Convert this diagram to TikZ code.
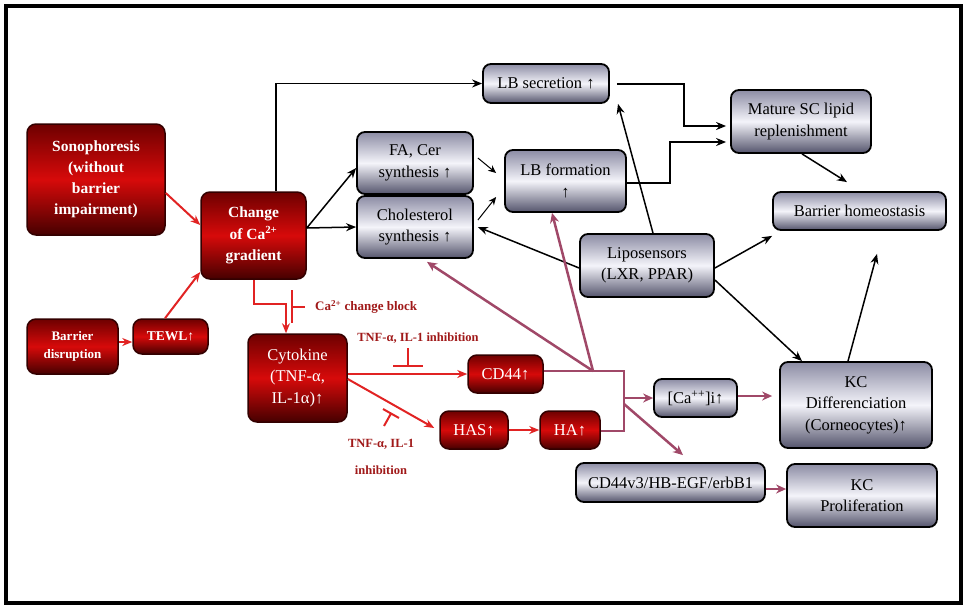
\documentclass[tikz,border=0pt]{standalone}
\usepackage{fontspec}
\setmainfont{Liberation Serif}
\usepackage{tikz}
\definecolor{maroon}{RGB}{110,0,0}
\definecolor{scarlet}{RGB}{215,10,10}
\definecolor{wine}{RGB}{70,0,0}
\definecolor{slate}{RGB}{140,140,164}
\definecolor{mist}{RGB}{244,244,250}
\definecolor{steel}{RGB}{84,84,108}
\definecolor{signal}{RGB}{225,35,35}
\definecolor{mauve}{RGB}{160,72,104}
\definecolor{brick}{RGB}{160,25,25}
\usetikzlibrary{shapes.geometric, arrows, arrows.meta}
\tikzstyle{redbox} = [rectangle, rounded corners=9pt, text centered, align=center, draw=black!80!red, line width=1.5pt, top color=maroon, bottom color=wine, middle color=scarlet, text=white, font=\fontsize{16.5}{21.5}\selectfont]
\tikzstyle{greybox} = [rectangle, rounded corners=8pt, text centered, align=center, draw=black, line width=1.8pt, top color=slate, bottom color=steel, middle color=mist, font=\fontsize{16.5}{21.5}\selectfont]
\tikzstyle{blocklabel} = [text=brick, inner sep=0pt, font=\bfseries\fontsize{13}{16}\selectfont]
\tikzstyle{arrow} = [line width=1.5pt, ->, >={Stealth[length=10pt, width=8pt]}, draw=black]
\tikzstyle{thinarrow} = [line width=1pt, ->, >={Stealth[length=8pt, width=7pt]}, draw=black]
\tikzstyle{redarrow} = [line width=2pt, ->, >={Stealth[length=10pt, width=8pt]}, draw=signal]
\tikzstyle{blockbar} = [line width=2pt, draw=signal]
\tikzstyle{purpleline} = [line width=2.5pt, draw=mauve]
\tikzstyle{purplearrow} = [purpleline, ->, >={Stealth[length=10pt, width=9pt]}]

\begin{document}
\begin{tikzpicture}[x=1pt, y=-1pt]
        \useasboundingbox (0,0) rectangle (964,606);
        \draw [line width=4.5pt] (6,6) rectangle (961,603);

        \node (node0) [redbox, minimum width=138pt, minimum height=111pt, font=\bfseries\fontsize{15.5}{21}\selectfont] at (96,179.5) {Sonophoresis\\(without\\barrier\\impairment)};
        \node (node1) [redbox, minimum width=105pt, minimum height=87pt, font=\bfseries\fontsize{15.5}{21.5}\selectfont] at (253.5,235.5) {Change\\of Ca\textsuperscript{2+}\\gradient};
        \node (node2) [greybox, minimum width=116pt, minimum height=62pt] at (415,163) {FA, Cer\\synthesis ↑};
        \node (node3) [greybox, minimum width=116pt, minimum height=62pt] at (415,227) {Cholesterol\\synthesis ↑};
        \node (node4) [greybox, minimum width=126pt, minimum height=39pt] at (546,83.5) {LB secretion ↑};
        \node (node5) [greybox, minimum width=140pt, minimum height=63pt] at (801,121.5) {Mature SC lipid\\replenishment};
        \node (node6) [greybox, minimum width=121pt, minimum height=62pt] at (565.5,181) {LB formation\\↑};
        \node (node7) [greybox, minimum width=173pt, minimum height=38pt] at (859.5,211) {Barrier homeostasis};
        \node (node8) [greybox, minimum width=134pt, minimum height=63pt] at (647,265.5) {Liposensors\\(LXR, PPAR)};
        \node (node9) [redbox, minimum width=91pt, minimum height=55pt, font=\bfseries\fontsize{13}{18}\selectfont] at (72.5,346.5) {Barrier\\disruption};
        \node (node10) [redbox, minimum width=75pt, minimum height=35pt, font=\bfseries\fontsize{13.5}{16}\selectfont] at (170.5,336.5) {TEWL↑};
        \node (node11) [redbox, minimum width=99pt, minimum height=88pt] at (297.5,378) {Cytokine\\(TNF-α,\\IL-1α)↑};
        \node (node12) [redbox, minimum width=75pt, minimum height=38pt] at (505.5,374) {CD44↑};
        \node (node13) [redbox, minimum width=68pt, minimum height=38pt] at (474,430) {HAS↑};
        \node (node14) [redbox, minimum width=60pt, minimum height=38pt] at (570,430) {HA↑};
        \node (node15) [greybox, minimum width=83pt, minimum height=38pt] at (695.5,398) {[Ca\textsuperscript{++}]i↑};
        \node (node16) [greybox, minimum width=152pt, minimum height=86pt] at (856,405) {KC\\Differenciation\\(Corneocytes)↑};
        \node (node17) [greybox, minimum width=189pt, minimum height=39pt] at (670.5,482.5) {CD44v3/HB-EGF/erbB1};
        \node (node18) [greybox, minimum width=150pt, minimum height=63pt] at (862,495.5) {KC\\Proliferation};

        \node (node19) [blocklabel, anchor=west] at (315,307) {Ca\textsuperscript{2+} change block};
        \node (node20) [blocklabel, font=\bfseries\fontsize{12.5}{15}\selectfont] at (418,338) {TNF-α, IL-1 inhibition};
        \node (node21) [blocklabel, align=center, font=\bfseries\fontsize{12.5}{15}\selectfont] at (381,456.5) {TNF-α, IL-1\\[12pt]inhibition};

        \coordinate (c0) at (593,371);
        \coordinate (c1) at (624,431);
        \coordinate (c2) at (624,398);
        \coordinate (c3) at (624,404);

        \draw [arrow] ([xshift=22.5pt]node1.north) |- (node4.west);
        \draw [arrow] ([yshift=7.5pt]node1.east) -- ([yshift=-5pt]node2.west);
        \draw [arrow] ([yshift=7.5pt]node1.east) -- (node3.west);
        \draw [thinarrow] ([xshift=4pt, yshift=5pt]node2.east) -- ([xshift=-8pt, yshift=8pt]node6.west);
        \draw [thinarrow] ([xshift=4pt, yshift=7pt]node3.east) -- ([xshift=-8pt, yshift=-16pt]node6.west);
        \draw [arrow, line width=2pt] ([xshift=7pt]node4.east) -- ++(67,0) |- ([xshift=-4pt, yshift=-4.5pt]node5.west);
        \draw [arrow, line width=2pt] ([yshift=-2pt]node6.east) -- ++(43,0) |- ([xshift=-4pt, yshift=-20.5pt]node5.west);
        \draw [arrow] ([xshift=1pt]node5.south) -- ([xshift=-12.5pt, yshift=9pt]node7.north);
        \draw [arrow] ([xshift=6pt]node8.north) -- ([xshift=72pt]node4.south);
        \draw [arrow] ([yshift=-2.5pt]node8.west) -- ([xshift=4pt]node3.east);
        \draw [arrow] ([yshift=-2.5pt]node8.east) -- ([yshift=-5pt]node7.south west);
        \draw [arrow] ([yshift=-14.5pt]node8.east) -- ([xshift=-54pt]node16.north);
        \draw [arrow] ([xshift=-8pt]node16.north) -- ([xshift=17.5pt, yshift=-23pt]node7.south);

        \draw [redarrow] ([yshift=-13.5pt]node0.east) -- ([yshift=10.5pt]node1.west);
        \draw [redarrow] ([yshift=4.5pt]node9.east) -- ([yshift=-5.5pt]node10.west);
        \draw [redarrow] ([xshift=-5.5pt]node10.north) -- ([yshift=-36.5pt]node1.west);
        \draw [redarrow] (node1.south) -- ++(0,24) -| ([xshift=-11.5pt]node11.north);
        \draw [redarrow] ([yshift=4pt]node11.east) -- (node12.west);
        \draw [redarrow] ([yshift=-1pt]node11.east) -- ([xshift=-5pt, yshift=2pt]node13.west);
        \draw [redarrow] (node13) -- (node14);
        \draw [blockbar] (292,290) -- (292,323) (292,306.5) -- (305,306.5);
        \draw [blockbar] (393,366) -- (423,366) (408,366) -- (408,348);
        \draw [blockbar] (383,409) -- (399,418) (391,413.5) -- (384,426);

        \draw [purpleline] ([yshift=3pt]node12.east) -| (c1) -- ([yshift=-1pt]node14.east);
        \draw [purplearrow] (c0) -- ([xshift=12pt, yshift=-3pt]node3.south);
        \draw [purplearrow] (c0) -- ([xshift=-13.5pt]node6.south);
        \draw [purplearrow] (c2) -- (node15.west);
        \draw [purplearrow] (c3) -- ([xshift=12.5pt, yshift=7pt]node17.north);
        \draw [purplearrow] ([yshift=2pt]node15.east) -- ([xshift=-7pt, yshift=9pt]node16.west);
        \draw [purplearrow] ([yshift=-6.5pt]node17.east) -- ([yshift=6.5pt]node18.west);
    \end{tikzpicture}
\end{document}
